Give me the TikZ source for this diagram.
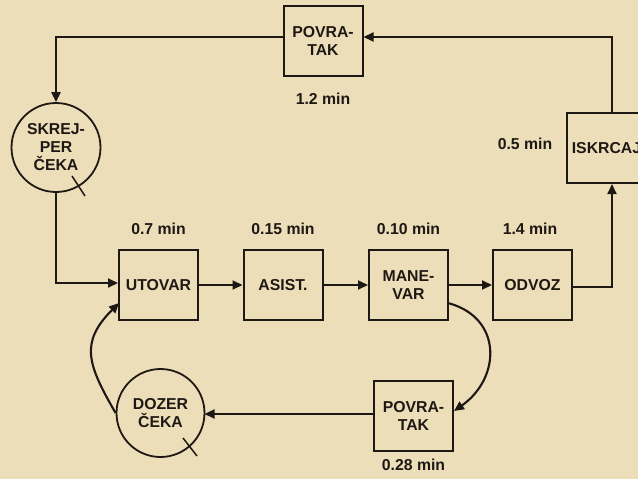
\documentclass[tikz,border=0pt]{standalone}
\usepackage{fontspec}
\setmainfont{Liberation Sans}
\usetikzlibrary{arrows.meta,calc}
\definecolor{parch}{RGB}{237,222,186}
\definecolor{ink}{RGB}{30,24,20}
\begin{document}
\begin{tikzpicture}[x=1pt,y=-1pt,
  txt/.style={font=\fontsize{15.8}{18}\selectfont\bfseries, text=ink, align=center},
  box/.style={txt, draw=ink, line width=2pt, minimum width=79pt, minimum height=70pt, inner sep=0pt},
  waitc/.style={txt, draw=ink, line width=1.8pt, circle, inner sep=0pt},
  conn/.style={draw=ink, line width=2.1pt, -{Triangle[length=10pt,width=9pt]}},
  tick/.style={draw=ink, line width=1.5pt},
  lab/.style={txt}]
\fill[parch] (0,0) rectangle (638,479);
\clip (0,0) rectangle (638,479);
\useasboundingbox (0,0) rectangle (638,479);
% boxes
\node[box] (utovar) at (158.5,285) {UTOVAR};
\node[box] (asist) at (283,285) {ASIST.};
\node[box] (manevar) at (408.5,285) {MANE-\\VAR};
\node[box] (odvoz) at (532.5,285) {ODVOZ};
\node[box] (iskrcaj) at (606.5,148) {ISKRCAJ};
\node[box] (povr1) at (323,40.5) {POVRA-\\TAK};
\node[box] (povr2) at (413.5,415.5) {POVRA-\\TAK};
\node[waitc, minimum size=89pt] (skrej) at (56,147.5) {SKREJ-\\PER\\ČEKA};
\node[waitc, minimum size=88pt] (dozer) at (160.5,413) {DOZER\\ČEKA};
% labels
\node[lab] (l1) at (158.5,229) {0.7 min};
\node[lab] (l2) at (283,229) {0.15 min};
\node[lab] (l3) at (408.5,229) {0.10 min};
\node[lab] (l4) at (530,229) {1.4 min};
\node[lab] (l5) at (525,144) {0.5 min};
\node[lab] (l6) at (323,99) {1.2 min};
\node[lab] (l7) at (413.5,465) {0.28 min};
% connectors
\draw[conn] (utovar) -- (asist);
\draw[conn] (asist) -- (manevar);
\draw[conn] (manevar) -- (odvoz);
\coordinate (c1) at (612,287);
\draw[conn] (odvoz.east |- c1) -- (c1) -- (c1 |- iskrcaj.south);
\coordinate (c2) at (612,37);
\draw[conn] (c1 |- iskrcaj.north) -- (c2) -- (c2 -| povr1.east);
\coordinate (c3) at (56,37);
\draw[conn] (povr1.west |- c3) -- (c3) -- (skrej.north);
\coordinate (c4) at (56,283);
\draw[conn] (skrej.south) -- (c4) -- (c4 -| utovar.west);
\coordinate (c5) at (119,303);
\draw[conn] (dozer.west) to[out=120,in=225,looseness=1.3] (c5);
\coordinate (c6) at (448,303);
\coordinate (c7) at (454,411);
\draw[conn] (c6) to[out=-15,in=35,looseness=1.35] (c7);
\coordinate (c8) at (204.5,414);
\draw[conn] (povr2.west |- c8) -- (c8);
% tick marks
\draw[tick] (72,176) -- (85,196);
\draw[tick] (183,438) -- (197,456);
\end{tikzpicture}
\end{document}
